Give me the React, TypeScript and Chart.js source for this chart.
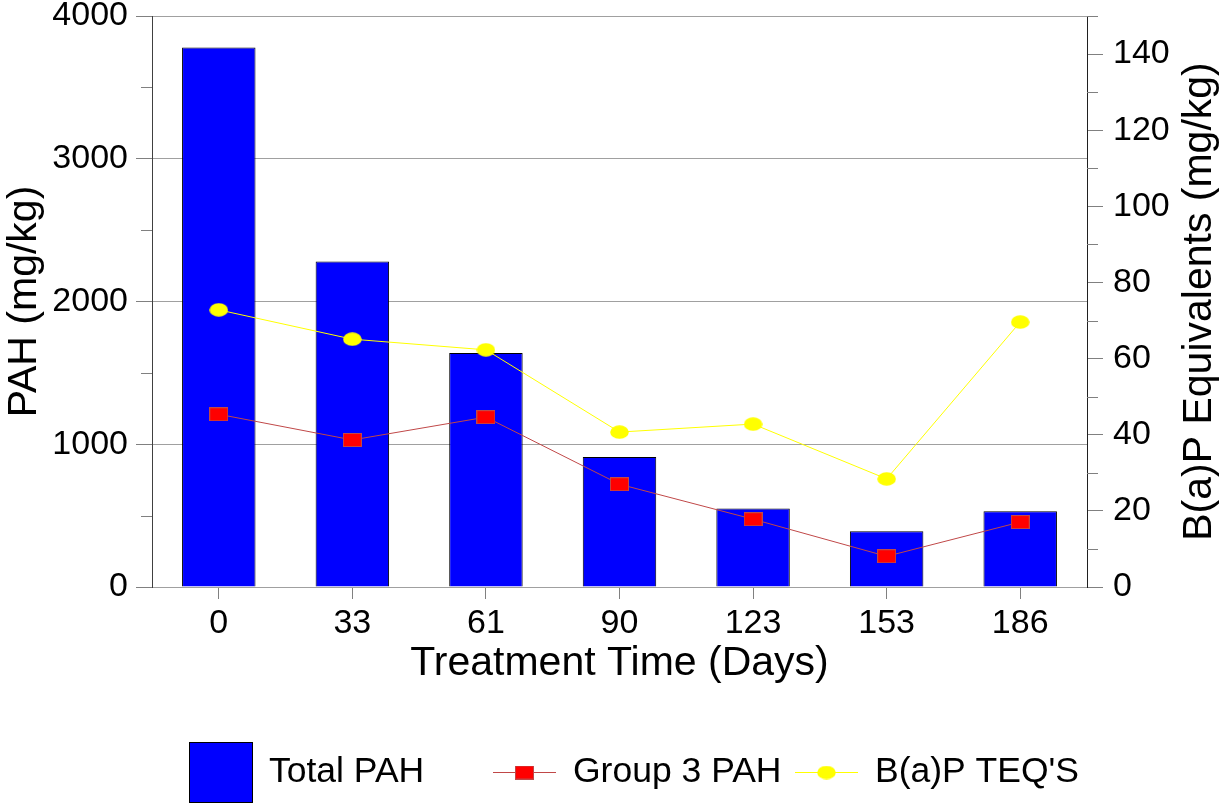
import React, { useEffect, useRef } from "react";
import { Chart, registerables } from "chart.js";

Chart.register(...registerables);

const categories = ["0", "33", "61", "90", "123", "153", "186"];
const totalPAH = [3780, 2280, 1640, 910, 550, 390, 530];
const group3PAH = [1210, 1030, 1190, 720, 475, 215, 455];
const bapTEQ = [72.8, 65.1, 62.3, 40.7, 42.8, 28.4, 69.6];

const seriesNames = ["Total PAH", "Group 3 PAH", "B(a)P TEQ'S"];
const xTitle = "Treatment Time (Days)";
const yTitle = "PAH (mg/kg)";
const y1Title = "B(a)P Equivalents (mg/kg)";

const FONT = "'Liberation Sans', Arial, sans-serif";
const FS = 34;
const TS = 41;
const LS = 35.5;
const GRID = "#a0a0a0";
const TICK = "#808080";

function makeRectImg(): HTMLCanvasElement {
  const c = document.createElement("canvas");
  c.width = 19;
  c.height = 14;
  const g = c.getContext("2d")!;
  g.fillStyle = "#ff0000";
  g.fillRect(0, 0, 19, 14);
  g.strokeStyle = "#c04848";
  g.lineWidth = 1;
  g.strokeRect(0.5, 0.5, 18, 13);
  return c;
}

function makeEllipseImg(): HTMLCanvasElement {
  const c = document.createElement("canvas");
  c.width = 19;
  c.height = 14;
  const g = c.getContext("2d")!;
  g.fillStyle = "#ffff00";
  g.beginPath();
  g.ellipse(9.5, 7, 9.3, 6.8, 0, 0, Math.PI * 2);
  g.fill();
  return c;
}

export default function App() {
  const ref = useRef<HTMLCanvasElement | null>(null);

  useEffect(() => {
    if (!ref.current) return;
    const rectImg = makeRectImg();
    const ellImg = makeEllipseImg();

    const decor = {
      id: "decor",
      afterDraw(chart: any) {
        const ctx = chart.ctx;
        const y = chart.scales.y;
        const y1 = chart.scales.y1;
        const area = chart.chartArea;
        ctx.save();
        ctx.strokeStyle = TICK;
        ctx.lineWidth = 1;
        for (let v = 500; v < 4000; v += 1000) {
          const py = Math.round(y.getPixelForValue(v)) + 0.5;
          ctx.beginPath();
          ctx.moveTo(area.left - 11, py);
          ctx.lineTo(area.left, py);
          ctx.stroke();
        }
        for (let v = 10; v <= 150; v += 20) {
          const py = Math.round(y1.getPixelForValue(v)) + 0.5;
          ctx.beginPath();
          ctx.moveTo(area.right, py);
          ctx.lineTo(area.right + 11, py);
          ctx.stroke();
        }
        ctx.fillStyle = "#000";
        ctx.font = `${TS}px ${FONT}`;
        ctx.textAlign = "center";
        ctx.textBaseline = "middle";
        ctx.translate(1200, (area.top + area.bottom) / 2);
        ctx.rotate(-Math.PI / 2);
        ctx.fillText(y1Title, 0, 0);
        ctx.restore();

        ctx.save();
        const ly = 772.5;
        ctx.fillStyle = "#0000ff";
        ctx.fillRect(189, 742, 64, 61);
        ctx.strokeStyle = "#000";
        ctx.lineWidth = 1;
        ctx.strokeRect(189.5, 742.5, 63, 60);
        ctx.strokeStyle = "#c04848";
        ctx.beginPath();
        ctx.moveTo(493, ly);
        ctx.lineTo(556, ly);
        ctx.stroke();
        ctx.drawImage(rectImg, 524.5 - 9.5, ly - 7);
        ctx.strokeStyle = "#ffff00";
        ctx.beginPath();
        ctx.moveTo(795, ly);
        ctx.lineTo(858, ly);
        ctx.stroke();
        ctx.drawImage(ellImg, 826.5 - 9.5, ly - 7);
        ctx.fillStyle = "#000";
        ctx.font = `${LS}px ${FONT}`;
        ctx.textAlign = "left";
        ctx.textBaseline = "middle";
        ctx.fillText(seriesNames[0], 269, ly);
        ctx.fillText(seriesNames[1], 573, ly);
        ctx.fillText(seriesNames[2], 875, ly);
        ctx.restore();
      },
    };

    const noPad = (s: any, w: number) => {
      s.width = w;
      s.paddingTop = 0;
      s.paddingBottom = 0;
    };

    const chart = new Chart(ref.current, {
      type: "bar",
      data: {
        labels: categories,
        datasets: [
          {
            type: "bar",
            label: seriesNames[0],
            data: totalPAH,
            yAxisID: "y",
            backgroundColor: "#0000ff",
            borderColor: "#000000",
            borderWidth: 1,
            barPercentage: 0.55,
            categoryPercentage: 1,
            order: 3,
          },
          {
            type: "line",
            label: seriesNames[1],
            data: group3PAH,
            yAxisID: "y",
            borderColor: "#c04848",
            borderWidth: 1,
            pointStyle: rectImg as any,
            pointRadius: 9,
            tension: 0,
            order: 2,
          },
          {
            type: "line",
            label: seriesNames[2],
            data: bapTEQ,
            yAxisID: "y1",
            borderColor: "#ffff00",
            borderWidth: 1,
            pointStyle: ellImg as any,
            pointRadius: 9,
            tension: 0,
            order: 1,
          },
        ],
      },
      options: {
        responsive: false,
        animation: false,
        layout: { padding: { top: 16, left: 0, right: 0, bottom: 100 } },
        plugins: { legend: { display: false }, tooltip: { enabled: false } },
        scales: {
          x: {
            type: "category",
            offset: true,
            afterFit: (s: any) => {
              s.height = 119;
              s.paddingLeft = 0;
              s.paddingRight = 0;
            },
            grid: {
              drawOnChartArea: false,
              offset: false,
              tickLength: 12,
              tickColor: TICK,
            },
            border: { color: GRID },
            ticks: {
              color: "#000",
              font: { family: FONT, size: FS },
              padding: 4,
              maxRotation: 0,
            },
            title: {
              display: true,
              text: xTitle,
              color: "#000",
              font: { family: FONT, size: TS },
              padding: { top: 0, bottom: 18 },
            },
          },
          y: {
            position: "left",
            min: 0,
            max: 4000,
            afterFit: (s: any) => noPad(s, 152),
            ticks: {
              stepSize: 1000,
              color: "#000",
              font: { family: FONT, size: FS },
              padding: 8,
              callback: (v: any) => String(v),
            },
            grid: {
              color: GRID,
              tickColor: TICK,
              tickLength: 16,
            },
            border: { color: "#404040" },
            title: {
              display: true,
              text: yTitle,
              color: "#000",
              font: { family: FONT, size: TS },
              padding: { top: 0, bottom: 0 },
            },
          },
          y1: {
            position: "right",
            min: 0,
            max: 150,
            afterFit: (s: any) => noPad(s, 133),
            ticks: {
              stepSize: 10,
              autoSkip: false,
              color: "#000",
              font: { family: FONT, size: FS },
              padding: 10,
              callback: (v: any) => (Number(v) % 20 === 0 ? String(v) : ""),
            },
            grid: {
              drawOnChartArea: false,
              tickColor: (c: any) =>
                c.tick && Number(c.tick.value) % 20 === 0 ? TICK : "transparent",
              tickLength: 16,
            },
            border: { color: "#202020" },
          },
        },
      },
      plugins: [decor],
    } as any);

    return () => chart.destroy();
  }, []);

  return (
    <div style={{ position: "fixed", left: 0, top: 0, width: 1220, height: 806, background: "#fff" }}>
      <canvas ref={ref} width={1220} height={806} style={{ display: "block" }} />
    </div>
  );
}
